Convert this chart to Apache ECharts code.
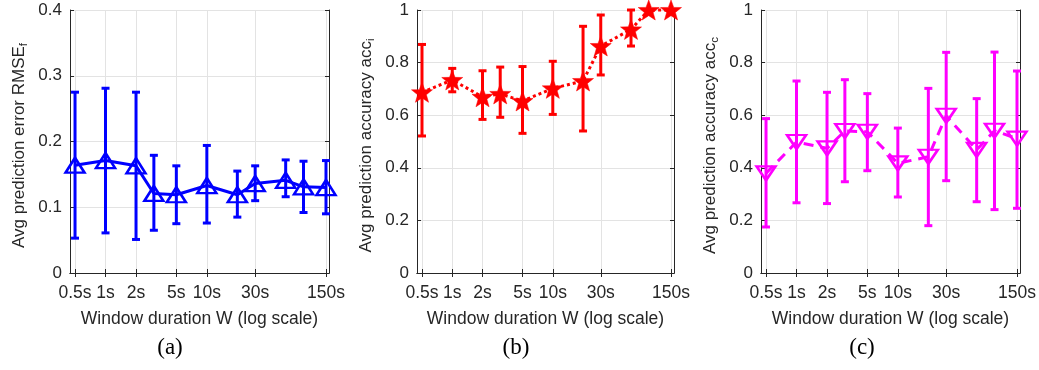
<!DOCTYPE html>
<html><head><meta charset="utf-8">
<script src="https://cdn.jsdelivr.net/npm/echarts@6/dist/echarts.min.js"></script>
<style>html,body{margin:0;padding:0;background:#fff}#c{width:1039px;height:370px}</style>
</head><body><div id="c"></div>
<script>
// ---- data ----
const windowSec = [0.5, 1, 2, 3, 5, 10, 20, 30, 60, 90, 150];
const xTickValues = [0.5, 1, 2, 5, 10, 30, 150];
const xTickLabels = ['0.5s', '1s', '2s', '5s', '10s', '30s', '150s'];

const rmseMean = [0.164, 0.171, 0.163, 0.121, 0.119, 0.133, 0.119, 0.136, 0.141, 0.131, 0.130];
const rmseLow  = [0.053, 0.061, 0.051, 0.065, 0.075, 0.076, 0.085, 0.110, 0.116, 0.092, 0.090];
const rmseHigh = [0.275, 0.281, 0.275, 0.179, 0.163, 0.194, 0.155, 0.163, 0.172, 0.170, 0.171];

const accIMean = [0.687, 0.734, 0.670, 0.681, 0.654, 0.702, 0.730, 0.863, 0.926, 1.000, 1.000];
const accILow  = [0.521, 0.689, 0.584, 0.592, 0.531, 0.603, 0.540, 0.753, 0.863, 1.000, 1.000];
const accIHigh = [0.869, 0.778, 0.769, 0.783, 0.785, 0.805, 0.938, 0.981, 1.000, 1.000, 1.000];

const accCMean = [0.379, 0.498, 0.474, 0.540, 0.537, 0.417, 0.442, 0.598, 0.468, 0.541, 0.511];
const accCLow  = [0.175, 0.267, 0.264, 0.347, 0.389, 0.289, 0.180, 0.351, 0.271, 0.241, 0.246];
const accCHigh = [0.587, 0.730, 0.687, 0.735, 0.682, 0.551, 0.702, 0.839, 0.663, 0.840, 0.768];

const yTitles = [
  ['Avg prediction error RMSE', 'f'],
  ['Avg prediction accuracy acc', 'i'],
  ['Avg prediction accuracy acc', 'c']
];
const panelLabels = ['(a)', '(b)', '(c)'];
const xTitle = 'Window duration W (log scale)';

// ---- layout/style ----
const FONT = '"Liberation Sans", Arial, Helvetica, sans-serif';
const AX = '#262626';
const GRIDC = '#e3e3e3';
const grids = [
  {left: 70, top: 10, width: 259, height: 263},
  {left: 417, top: 10, width: 257, height: 263},
  {left: 761, top: 10, width: 259, height: 263}
];
const xMin = 0.446, xMax = 160.6;
const yCfg = [
  {min: 0, max: 0.4, interval: 0.1},
  {min: 0, max: 1, interval: 0.2},
  {min: 0, max: 1, interval: 0.2}
];
const colors = ['#0000ff', '#ff0000', '#ff00ff'];

const xAxes = [], yAxes = [];
grids.forEach((g, i) => {
  xAxes.push({
    type: 'log', logBase: 10, gridIndex: i, min: xMin, max: xMax, position: 'bottom',
    axisLine: {show: true, lineStyle: {color: AX, width: 1}},
    axisTick: {show: true, inside: true, length: 4, lineStyle: {color: AX}, customValues: xTickValues},
    axisLabel: {show: true, customValues: xTickValues, color: AX, fontFamily: FONT, fontSize: 17.5, margin: 11,
      formatter: v => { const k = xTickValues.findIndex(t => Math.abs(t - v) < 1e-6 * Math.max(1, t)); return k >= 0 ? xTickLabels[k] : ''; }},
    splitLine: {show: true, lineStyle: {color: GRIDC, width: 1}},
    minorTick: {show: false}, minorSplitLine: {show: false},
    name: xTitle, nameLocation: 'middle', nameGap: 37,
    nameTextStyle: {color: AX, fontFamily: FONT, fontSize: 17.5}
  });
  xAxes.push({
    type: 'log', logBase: 10, gridIndex: i, min: xMin, max: xMax, position: 'top',
    axisLine: {show: true, lineStyle: {color: AX, width: 1}},
    axisTick: {show: true, inside: true, length: 4, lineStyle: {color: AX}, customValues: xTickValues},
    axisLabel: {show: false}, splitLine: {show: false}
  });
  const yc = yCfg[i];
  yAxes.push({
    type: 'value', gridIndex: i, min: yc.min, max: yc.max, interval: yc.interval, position: 'left',
    axisLine: {show: true, lineStyle: {color: AX, width: 1}},
    axisTick: {show: true, inside: true, length: 4, lineStyle: {color: AX}},
    axisLabel: {color: AX, fontFamily: FONT, fontSize: 17, margin: 8},
    splitLine: {show: true, lineStyle: {color: GRIDC, width: 1}},
    name: '{a|' + yTitles[i][0] + '}{s|' + yTitles[i][1] + '}',
    nameLocation: 'middle', nameGap: 40, nameRotate: 90,
    nameTextStyle: {color: AX, fontFamily: FONT, fontSize: 17, padding: [0, 8, 0, 0],
      rich: {a: {fontSize: 17, fontFamily: FONT, color: AX, lineHeight: 22},
             s: {fontSize: 11.5, fontFamily: FONT, color: AX, lineHeight: 12, verticalAlign: 'bottom'}}}
  });
  yAxes.push({
    type: 'value', gridIndex: i, min: yc.min, max: yc.max, interval: yc.interval, position: 'right',
    axisLine: {show: true, lineStyle: {color: AX, width: 1}},
    axisTick: {show: true, inside: true, length: 4, lineStyle: {color: AX}},
    axisLabel: {show: false}, splitLine: {show: false}
  });
});

function errorBars(gi, color, lows, highs) {
  return {
    type: 'custom', xAxisIndex: 2 * gi, yAxisIndex: 2 * gi, clip: false, z: 3, silent: true,
    data: windowSec.map((w, k) => [w, lows[k], highs[k]]),
    encode: {x: 0, y: [1, 2]},
    renderItem: (params, api) => {
      const x = api.value(0);
      const lo = api.coord([x, api.value(1)]);
      const hi = api.coord([x, api.value(2)]);
      const hw = 4;
      const style = {stroke: color, lineWidth: 3, fill: null};
      return {type: 'group', children: [
        {type: 'line', shape: {x1: lo[0], y1: lo[1], x2: hi[0], y2: hi[1]}, style},
        {type: 'line', shape: {x1: lo[0] - hw, y1: lo[1], x2: lo[0] + hw, y2: lo[1]}, style},
        {type: 'line', shape: {x1: hi[0] - hw, y1: hi[1], x2: hi[0] + hw, y2: hi[1]}, style}
      ]};
    }
  };
}

const STAR = 'path://M50,0 L62.5,34 L98,34.5 L70,57 L80,92 L50,72 L20,92 L30,57 L2,34.5 L37.5,34 Z';

const series = [
  errorBars(0, colors[0], rmseLow, rmseHigh),
  {type: 'line', xAxisIndex: 0, yAxisIndex: 0, clip: false, z: 4, silent: true,
   data: windowSec.map((w, k) => [w, rmseMean[k]]),
   lineStyle: {color: colors[0], width: 3, type: 'solid'},
   symbol: 'triangle', symbolSize: [19, 15],
   itemStyle: {color: 'rgba(255,255,255,0)', borderColor: colors[0], borderWidth: 2.5}},
  errorBars(1, colors[1], accILow, accIHigh),
  {type: 'line', xAxisIndex: 2, yAxisIndex: 2, clip: false, z: 4, silent: true,
   data: windowSec.map((w, k) => [w, accIMean[k]]),
   lineStyle: {color: colors[1], width: 3, type: [3, 3]},
   symbol: STAR, symbolSize: [21, 20],
   itemStyle: {color: colors[1], borderColor: colors[1], borderWidth: 0.5}},
  errorBars(2, colors[2], accCLow, accCHigh),
  {type: 'line', xAxisIndex: 4, yAxisIndex: 4, clip: false, z: 4, silent: true,
   data: windowSec.map((w, k) => [w, accCMean[k]]),
   lineStyle: {color: colors[2], width: 3, type: [10, 7]},
   symbol: 'triangle', symbolRotate: 180, symbolSize: [19, 14],
   itemStyle: {color: 'rgba(255,255,255,0)', borderColor: colors[2], borderWidth: 2.5}}
];

const labelX = [170, 516, 862];
const graphics = panelLabels.map((t, i) => ({
  type: 'text', x: labelX[i], y: 348,
  style: {text: t, textAlign: 'center', textVerticalAlign: 'middle',
    font: '23px "Liberation Serif", "Times New Roman", serif', fill: '#000'}
}));

const chart = echarts.init(document.getElementById('c'), null, {renderer: 'canvas'});
chart.setOption({
  animation: false,
  backgroundColor: '#fff',
  grid: grids,
  xAxis: xAxes,
  yAxis: yAxes,
  series: series,
  graphic: graphics
});
</script>
</body></html>
